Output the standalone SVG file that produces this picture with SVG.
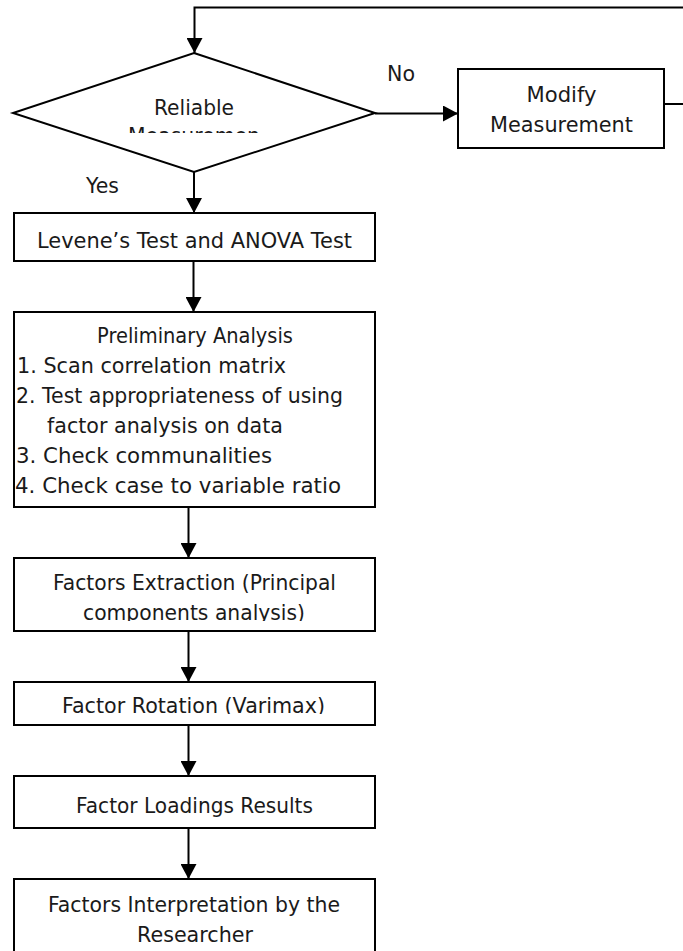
<svg xmlns="http://www.w3.org/2000/svg" width="683" height="951" viewBox="0 0 683 951">
  <style>
    .shape { fill: #ffffff; stroke: #000000; stroke-width: 2; }
    .wire { fill: none; stroke: #000000; stroke-width: 2; }
    text { font-family: "DejaVu Sans", "Liberation Sans", sans-serif; font-size: 20.5px; fill: #1a1a1a; }
    .mid { text-anchor: middle; }
  </style>
  <defs>
    <marker id="head" viewBox="0 0 15 16" refX="15" refY="8" markerWidth="15" markerHeight="16" markerUnits="userSpaceOnUse" orient="auto">
      <path d="M0,0 L15,8 L0,16 Z" fill="#000000"/>
    </marker>
    <!-- text areas that cut off overflowing lines -->
    <clipPath id="clipDecision"><rect x="13" y="53" width="362" height="80"/></clipPath>
    <clipPath id="clipExtraction"><rect x="14" y="558" width="361" height="63"/></clipPath>
    <clipPath id="clipRotation"><rect x="14" y="682" width="361" height="32"/></clipPath>
  </defs>

  <!-- connectors -->
  <g id="connectors">
    <path class="wire" d="M683,7.5 L194.5,7.5 L194.5,53" marker-end="url(#head)"/>
    <path class="wire" d="M375,113.5 L458,113.5" marker-end="url(#head)"/>
    <path class="wire" d="M664,104 L683,104"/>
    <path class="wire" d="M194,172 L194,213" marker-end="url(#head)"/>
    <path class="wire" d="M193.5,261 L193.5,312" marker-end="url(#head)"/>
    <path class="wire" d="M188.5,507 L188.5,558" marker-end="url(#head)"/>
    <path class="wire" d="M188.5,631 L188.5,682" marker-end="url(#head)"/>
    <path class="wire" d="M188.5,725 L188.5,776" marker-end="url(#head)"/>
    <path class="wire" d="M188.5,828 L188.5,879" marker-end="url(#head)"/>
    <text x="387" y="81" textLength="28" lengthAdjust="spacingAndGlyphs">No</text>
    <text x="86" y="193" textLength="33" lengthAdjust="spacingAndGlyphs">Yes</text>
  </g>

  <g id="reliable">
    <path class="shape" d="M194,53 L375,113 L194,172 L13,113 Z"/>
    <g clip-path="url(#clipDecision)">
      <text class="mid" x="194" y="115" textLength="80" lengthAdjust="spacingAndGlyphs">Reliable</text>
      <text class="mid" x="194" y="143" textLength="132" lengthAdjust="spacingAndGlyphs">Measuremen</text>
    </g>
  </g>

  <g id="modify">
    <rect class="shape" x="458" y="69" width="206" height="79"/>
    <text class="mid" x="561.5" y="102" textLength="70" lengthAdjust="spacingAndGlyphs">Modify</text>
    <text class="mid" x="561.5" y="132" textLength="143" lengthAdjust="spacingAndGlyphs">Measurement</text>
  </g>

  <g id="levene">
    <rect class="shape" x="14" y="213" width="361" height="48"/>
    <text class="mid" x="194.5" y="248" textLength="315" lengthAdjust="spacingAndGlyphs">Levene’s Test and ANOVA Test</text>
  </g>

  <g id="preliminary">
    <rect class="shape" x="14" y="312" width="361" height="195"/>
    <text class="mid" x="195" y="343" textLength="196" lengthAdjust="spacingAndGlyphs">Preliminary Analysis</text>
    <text x="17" y="373" textLength="269" lengthAdjust="spacingAndGlyphs">1. Scan correlation matrix</text>
    <text x="16" y="403" textLength="327" lengthAdjust="spacingAndGlyphs">2. Test appropriateness of using</text>
    <text x="47" y="433" textLength="236" lengthAdjust="spacingAndGlyphs">factor analysis on data</text>
    <text x="16" y="463" textLength="256" lengthAdjust="spacingAndGlyphs">3. Check communalities</text>
    <text x="15" y="493" textLength="326" lengthAdjust="spacingAndGlyphs">4. Check case to variable ratio</text>
  </g>

  <g id="extraction">
    <rect class="shape" x="14" y="558" width="361" height="73"/>
    <g clip-path="url(#clipExtraction)">
      <text class="mid" x="194.5" y="590" textLength="283" lengthAdjust="spacingAndGlyphs">Factors Extraction (Principal</text>
      <text class="mid" x="194" y="620" textLength="222" lengthAdjust="spacingAndGlyphs">components analysis)</text>
    </g>
  </g>

  <g id="rotation">
    <rect class="shape" x="14" y="682" width="361" height="43"/>
    <g clip-path="url(#clipRotation)">
      <text class="mid" x="193.5" y="713" textLength="263" lengthAdjust="spacingAndGlyphs">Factor Rotation (Varimax)</text>
    </g>
  </g>

  <g id="loadings">
    <rect class="shape" x="14" y="776" width="361" height="52"/>
    <text class="mid" x="194.5" y="813" textLength="237" lengthAdjust="spacingAndGlyphs">Factor Loadings Results</text>
  </g>

  <g id="interpretation">
    <rect class="shape" x="14" y="879" width="361" height="90"/>
    <text class="mid" x="194" y="912" textLength="292" lengthAdjust="spacingAndGlyphs">Factors Interpretation by the</text>
    <text class="mid" x="195" y="942" textLength="116" lengthAdjust="spacingAndGlyphs">Researcher</text>
  </g>
</svg>
